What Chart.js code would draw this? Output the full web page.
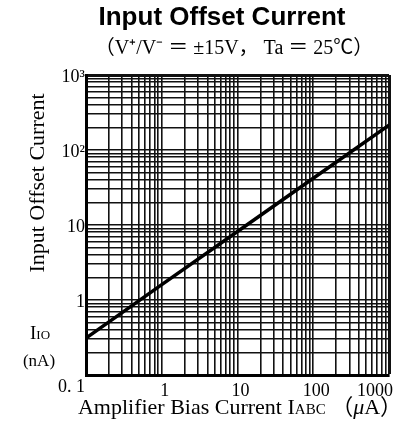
<!DOCTYPE html>
<html>
<head>
<meta charset="utf-8">
<script src="https://cdn.jsdelivr.net/npm/chart.js@4.4.1/dist/chart.umd.min.js"></script>
<style>
  html, body { margin: 0; padding: 0; background: #fff; }
  #wrap { width: 403px; height: 430px; }
</style>
</head>
<body>
<div id="wrap"><canvas id="chart" width="403" height="430"></canvas></div>
<script>
// readings (log-log, straight line)
var biasCurrent = [0.1, 1, 10, 100, 1000];          // IABC, uA
var offsetCurrent = [0.31, 1.6, 8.2, 42, 215];       // IIO, nA

var decades = [0.1, 1, 10, 100, 1000];
var minorSteps = [1, 2, 3, 4, 5, 6, 7, 8, 9];
var yTickValues = [1, 10, 100, 1000];
var yTickLabels = ['1', '10', '10\u00b2', '10\u00b3'];
var xTickValues = [1, 10, 100, 1000];
var xTickLabels = ['1', '10', '100', '1000'];

var SERIF = '"Liberation Serif", "Noto Sans CJK JP", serif';

function gridTicks() {
    var t = [];
    decades.forEach(function (d) {
        minorSteps.forEach(function (m) {
            if (d === 1000 && m > 1) return;
            t.push({ value: d * m });
        });
    });
    return t;
}

// draw a row of text runs (different fonts/offsets) centred or aligned at x
function drawRuns(ctx, runs, x, y, align) {
    var total = 0;
    runs.forEach(function (r) {
        ctx.font = r.font;
        r.w = ctx.measureText(r.text).width;
        total += r.w;
    });
    var cx = align === 'right' ? x - total : (align === 'left' ? x : x - total / 2);
    ctx.textAlign = 'left';
    runs.forEach(function (r) {
        ctx.font = r.font;
        ctx.fillText(r.text, cx, y + (r.dy || 0));
        cx += r.w;
    });
}

var textPlugin = {
    id: 'texts',
    afterDraw: function (chart) {
        var ctx = chart.ctx;
        var xs = chart.scales.x, ys = chart.scales.y;
        ctx.save();
        ctx.fillStyle = '#000';
        ctx.textBaseline = 'middle';

        ctx.font = 'bold 26px "Liberation Sans", Arial, sans-serif';
        ctx.textAlign = 'center';
        ctx.fillText('Input Offset Current', 222, 18);

        drawRuns(ctx, [{ text: '\uff08V\u207a/V\u207b \uff1d \u00b115V\uff0c Ta \uff1d 25\u2103\uff09', font: '20px ' + SERIF }], 234, 49, 'center');

        // x tick labels
        ctx.font = '18px ' + SERIF;
        var labY = 391;
        xTickValues.forEach(function (v, i) {
            var px = xs.getPixelForValue(v);
            if (i === xTickValues.length - 1) {
                ctx.textAlign = 'right';
                ctx.fillText(xTickLabels[i], px + 4, labY);
            } else {
                ctx.textAlign = 'center';
                ctx.fillText(xTickLabels[i], px + 3, labY);
            }
        });
        ctx.textAlign = 'right';
        ctx.fillText('0. 1', xs.left - 1, ys.getPixelForValue(0.1) + 12);

        // x axis title
        drawRuns(ctx, [
            { text: 'Amplifier Bias Current I', font: '22px ' + SERIF },
            { text: 'ABC', font: '15px ' + SERIF, dy: 2 },
            { text: ' \uff08', font: '22px ' + SERIF },
            { text: '\u03bc', font: 'italic 22px ' + SERIF },
            { text: 'A\uff09', font: '22px ' + SERIF }
        ], 240, 408, 'center');

        // y axis title
        ctx.save();
        ctx.translate(38, 183);
        ctx.rotate(-Math.PI / 2);
        ctx.font = '22px ' + SERIF;
        ctx.textAlign = 'center';
        ctx.fillText('Input Offset Current', 0, 0);
        ctx.restore();

        drawRuns(ctx, [
            { text: 'I', font: '19px ' + SERIF },
            { text: 'IO', font: '13px ' + SERIF, dy: 2 }
        ], 40, 334, 'center');
        drawRuns(ctx, [{ text: '(nA)', font: '17px ' + SERIF }], 39, 362, 'center');
        ctx.restore();
    }
};

function edgeWidth(c) {
    return c.tick && c.tick.value === 1000 ? 3 : 1.6;
}

new Chart(document.getElementById('chart'), {
    type: 'line',
    data: {
        datasets: [{
            data: biasCurrent.map(function (x, i) { return { x: x, y: offsetCurrent[i] }; }),
            borderColor: '#000',
            borderWidth: 3.5,
            pointRadius: 0,
            tension: 0,
            fill: false
        }]
    },
    options: {
        responsive: false,
        animation: false,
        devicePixelRatio: 1,
        layout: { padding: { left: 0, top: 75, right: 14, bottom: 0 } },
        plugins: { legend: { display: false }, tooltip: { enabled: false }, title: { display: false } },
        scales: {
            x: {
                type: 'logarithmic',
                min: 0.1,
                max: 1000,
                afterBuildTicks: function (s) { s.ticks = gridTicks(); },
                afterFit: function (s) { s.height = 55; },
                grid: { color: '#111', lineWidth: edgeWidth, drawTicks: false },
                border: { display: true, color: '#000', width: 3 },
                ticks: { display: false, autoSkip: false }
            },
            y: {
                type: 'logarithmic',
                min: 0.1,
                max: 1000,
                afterBuildTicks: function (s) { s.ticks = gridTicks(); },
                afterFit: function (s) { s.width = 86; },
                grid: { color: '#111', lineWidth: edgeWidth, drawTicks: false },
                border: { display: true, color: '#000', width: 3 },
                ticks: {
                    autoSkip: false,
                    padding: 1,
                    labelOffset: 2,
                    color: '#000',
                    font: { family: SERIF, size: 18 },
                    callback: function (v) {
                        var i = yTickValues.indexOf(v);
                        return i >= 0 ? yTickLabels[i] : '';
                    }
                }
            }
        }
    },
    plugins: [textPlugin]
});
</script>
</body>
</html>
